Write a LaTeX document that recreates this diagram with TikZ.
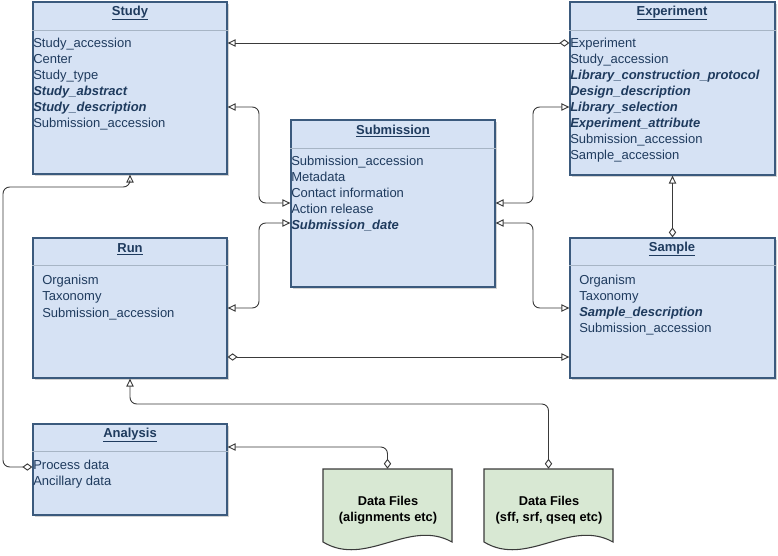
\documentclass[tikz,border=0pt]{standalone}
\usepackage{fontspec}
\setmainfont{Liberation Sans}
\usetikzlibrary{arrows.meta,fit,shadows}

\definecolor{boxfill}{HTML}{D6E2F4}
\definecolor{boxline}{HTML}{3B5A7D}
\definecolor{boxtext}{HTML}{1F3B5E}
\definecolor{filefill}{HTML}{D8E8D3}
\definecolor{linegray}{HTML}{3A3A3A}

\newcommand{\bi}[1]{\textbf{\textit{#1}}}

\tikzset{
  entity/.style={draw=boxline, fill=boxfill, line width=0.9pt, inner sep=0pt,
    drop shadow={shadow xshift=1.5pt, shadow yshift=-1.5pt, opacity=0.35}},
  head/.style={font=\fontsize{9.75pt}{12pt}\selectfont\bfseries, text=boxtext},
  divider/.style={draw=boxline!45, line width=0.7pt},
  field/.style={anchor=west, inner sep=0pt, text=boxtext, text height=1.6ex, text depth=0.45ex,
    font=\fontsize{9.75pt}{12pt}\selectfont},
  datafile/.style={draw=linegray, fill=filefill, line width=0.8pt},
  filetext/.style={align=center, font=\fontsize{9.6pt}{12pt}\selectfont\bfseries},
  link/.style={draw=linegray, line width=0.7pt, rounded corners=5pt},
  tri/.tip={Triangle[open, length=6pt, width=5.5pt]},
  dia/.tip={Diamond[open, length=7.5pt, width=5.5pt]},
}

\begin{document}
\begin{tikzpicture}[x=0.75pt,y=-0.75pt]
  \useasboundingbox (0,0) rectangle (778,556);

  % entities
  \node[entity, fit={(33,2) (227,174)}]    (study) {};
  \node[entity, fit={(570,2) (775,175)}]   (exp) {};
  \node[entity, fit={(291,120) (495,287)}] (sub) {};
  \node[entity, fit={(33,238) (227,378)}]  (run) {};
  \node[entity, fit={(570,238) (775,378)}] (sample) {};
  \node[entity, fit={(33,424) (227,515)}]  (analysis) {};

  \node[head] (studyH)    at (130,13)  {\underline{Study}};
  \node[head] (expH)      at (672,13)  {\underline{Experiment}};
  \node[head] (subH)      at (393,131) {\underline{Submission}};
  \node[head] (runH)      at (130,249) {\underline{Run}};
  \node[head] (sampleH)   at (672,249) {\underline{Sample}};
  \node[head] (analysisH) at (130,435) {\underline{Analysis}};

  \draw[divider] (study.west |- 0,30) -- (study.east |- 0,30);
  \draw[divider] (exp.west |- 0,30) -- (exp.east |- 0,30);
  \draw[divider] (sub.west |- 0,148) -- (sub.east |- 0,148);
  \draw[divider] (run.west |- 0,265) -- (run.east |- 0,265);
  \draw[divider] (sample.west |- 0,265) -- (sample.east |- 0,265);
  \draw[divider] (analysis.west |- 0,451) -- (analysis.east |- 0,451);

  \foreach \f [count=\i from 0] in {Study\_accession, Center, Study\_type,
      \bi{Study\_abstract}, \bi{Study\_description}, Submission\_accession}
    \node[field] (study-\i) at (33,43+16*\i) {\f};
  \foreach \f [count=\i from 0] in {Experiment, Study\_accession,
      \bi{Library\_construction\_protocol}, \bi{Design\_description},
      \bi{Library\_selection}, \bi{Experiment\_attribute},
      Submission\_accession, Sample\_accession}
    \node[field] (exp-\i) at (570,43+16*\i) {\f};
  \foreach \f [count=\i from 0] in {Submission\_accession, Metadata,
      Contact information, Action release, \bi{Submission\_date}}
    \node[field] (sub-\i) at (291,161+16*\i) {\f};
  \foreach \f [count=\i from 0] in {Organism, Taxonomy, Submission\_accession}
    \node[field] (run-\i) at (42,280+16.5*\i) {\f};
  \foreach \f [count=\i from 0] in {Organism, Taxonomy,
      \bi{Sample\_description}, Submission\_accession}
    \node[field] (sample-\i) at (579,280+16*\i) {\f};
  \foreach \f [count=\i from 0] in {Process data, Ancillary data}
    \node[field] (analysis-\i) at (33,465+16*\i) {\f};

  % data files
  \foreach \x/\n in {323/aln, 484/raw} {
    \draw[datafile] (\x,469) -- (\x+129,469) -- (\x+129,542)
      .. controls (\x+86,518) and (\x+43,568) .. (\x,542) -- cycle;
    \node[fit={(\x,469) (\x+129,542)}, inner sep=0pt] (\n) {};
  }
  \node[filetext] (alnT) at (388,510) {Data Files\\(alignments etc)};
  \node[filetext] (rawT) at (549,510) {Data Files\\(sff, srf, qseq etc)};

  % connectors
  \draw[link, tri-dia] (study.east |- 0,43) -- (exp.west |- 0,43);
  \draw[link, tri-tri] (study.east |- 0,107) -- (259,107) -- (259,203) -- (sub.west |- 0,203);
  \draw[link, tri-tri] (run.east |- 0,308) -- (259,308) -- (259,223) -- (sub.west |- 0,223);
  \draw[link, tri-tri] (exp.west |- 0,107) -- (533,107) -- (533,203) -- (sub.east |- 0,203);
  \draw[link, tri-tri] (sample.west |- 0,308) -- (533,308) -- (533,223) -- (sub.east |- 0,223);
  \draw[link, dia-tri] (run.east |- 0,357) -- (sample.west |- 0,357);
  \draw[link, dia-tri] (sample.north) -- (exp.south);
  \draw[link, dia-tri] (analysis.west |- 0,467) -- (3,467) -- (3,187) -- (study.south |- 0,187) -- (study.south);
  \draw[link, dia-tri] (raw.north) -- (raw.north |- 0,404) -- (run.south |- 0,404) -- (run.south);
  \draw[link, dia-tri] (aln.north) -- (aln.north |- 0,447) -- (analysis.east |- 0,447);
\end{tikzpicture}
\end{document}
